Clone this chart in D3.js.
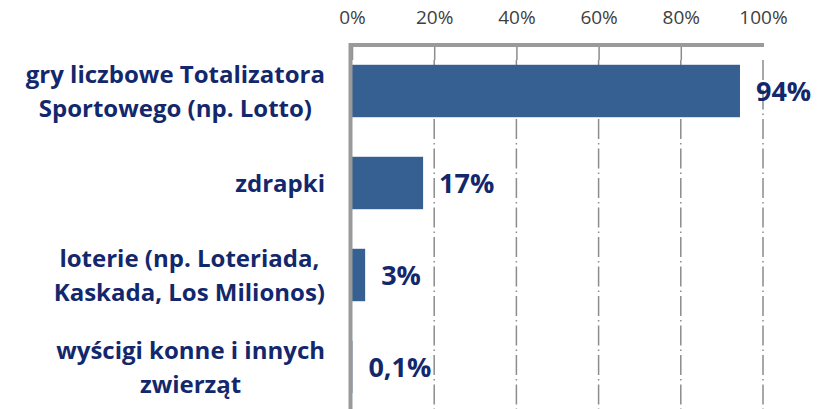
<!DOCTYPE html>
<html><head><meta charset="utf-8">
<script src="https://cdn.jsdelivr.net/npm/d3@7"></script>
<style>body{margin:0;background:#fff}svg{display:block}</style>
</head><body>
<svg id="c" width="825" height="409"></svg>
<script>
const categories = [
  ["gry liczbowe Totalizatora", "Sportowego (np. Lotto)"],
  ["zdrapki"],
  ["loterie (np. Loteriada,", "Kaskada, Los Milionos)"],
  ["wyścigi konne i innych", "zwierząt"]
];
const values = [94.4, 17.3, 3.2, 0.1];
const valueLabels = ["94%", "17%", "3%", "0,1%"];
const tickValues = [0, 20, 40, 60, 80, 100];

const svg = d3.select("#c");
const x = d3.scaleLinear().domain([0, 100]).range([352, 763]);
const y = d3.scaleBand().domain(d3.range(categories.length)).range([45, 413]).paddingInner(0.43).paddingOuter(0.215);
const font = "'Open Sans', sans-serif";
const navy = "#13286c";

// gridlines
svg.append("g").selectAll("line").data(tickValues.slice(1)).join("line")
  .attr("x1", d => x(d)).attr("x2", d => x(d))
  .attr("y1", 60).attr("y2", 409)
  .attr("stroke", "#8c8c8c").attr("stroke-width", 1.5)
  .attr("stroke-dasharray", "20,4,1.5,4");

// top axis
const axis = d3.axisTop(x).tickValues(tickValues).tickFormat(d => d + "%").tickSize(-15);
const ag = svg.append("g").attr("transform", "translate(0,45)").call(axis);
ag.select(".domain").remove();
ag.selectAll(".tick line").attr("stroke", "#8c8c8c").attr("stroke-width", 1.5);
ag.selectAll(".tick text").attr("font-family", font).attr("font-size", 19).attr("fill", "#404040")
  .attr("y", -28).attr("dy", "0.36em");
ag.select(".tick:last-of-type line").attr("y2", 0);

// bars
svg.append("g").selectAll("rect").data(values).join("rect")
  .attr("x", x(0)).attr("y", (d, i) => y(i))
  .attr("width", d => x(d) - x(0)).attr("height", y.bandwidth())
  .attr("fill", "#376092");

// axis frame lines
svg.append("line").attr("x1", x(0)-1.5).attr("x2", x(100)+1).attr("y1", 45).attr("y2", 45)
  .attr("stroke", "#9a9a9a").attr("stroke-width", 4);
svg.append("line").attr("x1", x(0)-1.5).attr("x2", x(0)-1.5).attr("y1", 43).attr("y2", 409)
  .attr("stroke", "#9a9a9a").attr("stroke-width", 4);

// value labels
svg.append("g").selectAll("text").data(values).join("text")
  .attr("x", d => x(d) + 16).attr("y", (d, i) => y(i) + y.bandwidth() / 2)
  .attr("dy", "0.36em")
  .attr("font-family", font).attr("font-weight", 700).attr("font-size", 27)
  .attr("fill", navy).text((d, i) => valueLabels[i]);

// category labels: block right-aligned at 325, lines centred within block
const right = 325;
const cg = svg.append("g").selectAll("text").data(categories).join("text")
  .attr("text-anchor", "middle")
  .attr("font-family", font).attr("font-weight", 700).attr("font-size", 24)
  .attr("fill", navy);
cg.each(function(lines, i) {
  const cy = y(i) + y.bandwidth() / 2;
  const lh = 34;
  const t = d3.select(this);
  const spans = lines.map((l, j) => t.append("tspan")
      .attr("y", cy + (j - (lines.length - 1) / 2) * lh)
      .attr("dy", "0.36em").text(l));
  const maxW = d3.max(spans, s => s.node().getComputedTextLength());
  spans.forEach(s => s.attr("x", right - maxW / 2));
});
</script>
</body></html>
